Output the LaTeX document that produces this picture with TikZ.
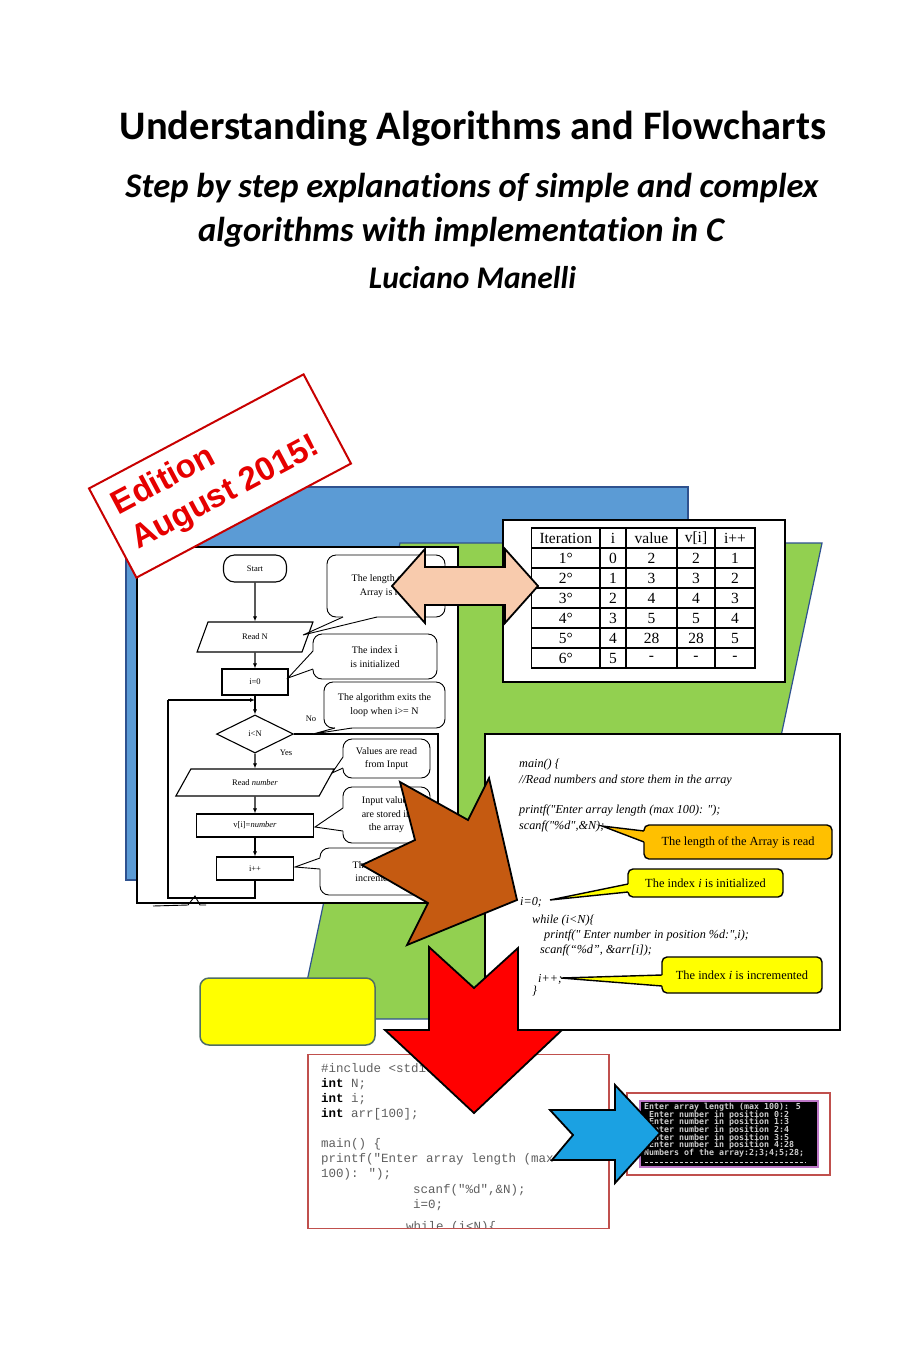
\documentclass[tikz,border=0pt]{standalone}
\usepackage{fontspec}
\setmainfont{Liberation Serif}
\newfontfamily\carl{Carlito}[Ligatures=NoCommon]
\newfontfamily\arl{Liberation Sans}
\newfontfamily\cour{Liberation Mono}
\newfontfamily\dvm{DejaVu Sans Mono}
\newfontfamily\codef{Liberation Serif}
\usetikzlibrary{shapes.geometric,arrows.meta}
\definecolor{bluebg}{RGB}{91,155,213}
\definecolor{blueln}{RGB}{47,82,143}
\definecolor{greenbg}{RGB}{146,208,80}
\definecolor{peach}{RGB}{248,203,173}
\definecolor{brownar}{RGB}{197,90,17}
\definecolor{redar}{RGB}{255,0,0}
\definecolor{bluear}{RGB}{27,161,226}
\definecolor{orangecl}{RGB}{255,192,0}
\definecolor{yellowcl}{RGB}{255,255,0}
\definecolor{darkred}{RGB}{192,80,77}
\definecolor{stampred}{RGB}{200,0,0}
\definecolor{stamptext}{RGB}{230,0,0}
\definecolor{codegray}{RGB}{95,95,95}
\definecolor{termtext}{RGB}{205,205,205}
\definecolor{termframe}{RGB}{190,120,200}
\definecolor{yframe}{RGB}{80,110,100}
% pointer of a speech bubble: [fill]{line width}{base1}{base2}{tip}{base1 inside}{base2 inside}
\newcommand\bubptr[7][white]{%
  \fill[#1] #6 -- #3 -- #5 -- #4 -- #7 -- cycle;
  \draw[line width=#2, line join=miter] #3 -- #5 -- #4;}
\tikzset{
  fcbox/.style={draw, line width=1.1pt, fill=white, inner sep=0pt, font=\fontsize{8.5}{10}\selectfont},
  fcline/.style={line width=1.1pt},
  arr/.style={fcline, -{Latex[length=5pt,width=4pt]}},
  bub/.style={draw, line width=0.9pt, fill=white, rounded corners=9pt, inner sep=0pt, align=center, font=\fontsize{10}{13.5}\selectfont},
  cl/.style={draw, line width=1.4pt, rounded corners=5pt, inner sep=0pt, align=center, font=\fontsize{12.4}{14}\selectfont},
  code/.style={anchor=base west, inner sep=0pt, font=\codef\itshape\fontsize{12.2}{14}\selectfont},
  mono/.style={anchor=base west, inner sep=0pt, text=codegray, font=\cour\fontsize{12.5}{15}\selectfont},
  term/.style={anchor=base west, inner sep=0pt, text=termtext, font=\dvm\bfseries\fontsize{8.3}{8}\selectfont},
  cell/.style={inner sep=0pt, font=\fontsize{15.5}{17}\selectfont},
  lbl/.style={inner sep=0pt, font=\fontsize{8.5}{10}\selectfont},
  bigarrow/.style={draw=black, line width=1.8pt, line join=miter},
  titlef/.style={anchor=base, inner sep=0pt, font=\carl\bfseries\fontsize{40.5}{48}\selectfont},
  subf/.style={anchor=base, inner sep=0pt, font=\carl\bfseries\itshape\fontsize{34.6}{40}\selectfont},
  authf/.style={anchor=base, inner sep=0pt, font=\carl\bfseries\itshape\fontsize{31.5}{38}\selectfont},
  stampf/.style={anchor=base west, inner sep=0pt, text=stamptext, font=\arl\bfseries\fontsize{33}{38}\selectfont},
  plainbox/.style={inner sep=0pt}
}
\begin{document}
\begin{tikzpicture}[x=1pt,y=-1pt]
\useasboundingbox (0,0) rectangle (907,1360);
\fill[white] (0,0) rectangle (907,1360);

% titles
\node[titlef] (title) at (473,139) {Understanding Algorithms and Flowcharts};
\node[subf] (sub1) at (472,197) {Step by step explanations of simple and complex};
\node[subf] (sub2) at (461,241) {algorithms with implementation in C};
\node[authf] (author) at (472.5,288) {Luciano Manelli};

% background shapes
\node[plainbox, draw=blueln, line width=1.2pt, fill=bluebg, minimum width=562, minimum height=393] (bluebox) at (407,683.5) {};
\filldraw[fill=greenbg, draw=blueln, line width=1.2pt] (400,543) -- (822,543) -- (721,1019) -- (299,1019) -- cycle;

% flowchart panel
\node[plainbox, draw, line width=1.5pt, fill=white, minimum width=321, minimum height=356] (fbox) at (297.5,725) {};
\node[fcbox, rounded corners=11pt, minimum width=63, minimum height=27] (start) at (255,568.5) {Start};
\node[fcbox, trapezium, trapezium left angle=63.4, trapezium right angle=116.6, trapezium stretches=true, minimum width=116, minimum height=30] (readn) at (255,637) {Read N};
\node[fcbox, minimum width=66, minimum height=26] (i0) at (255,682) {i=0};
\node[fcbox, diamond, minimum width=77, minimum height=38] (dec) at (255,734) {i<N};
\node[fcbox, trapezium, trapezium left angle=48.4, trapezium right angle=131.6, trapezium stretches=true, minimum width=159, minimum height=27] (readnum) at (255,782.5) {Read \textit{number}};
\node[fcbox, minimum width=117, minimum height=23] (vi) at (255,825.5) {v[i]=\textit{number}};
\node[fcbox, minimum width=77, minimum height=23] (ipp) at (255,868.5) {i++};
\draw[arr] (start) -- (readn);
\draw[arr] (readn) -- (i0);
\draw[arr] (i0) -- (dec);
\draw[arr] (dec) -- (readnum);
\draw[arr] (readnum) -- (vi);
\draw[arr] (vi) -- (ipp);
\coordinate (lb) at (168,898);
\coordinate (lt) at (168,700);
\coordinate (j1) at (255,700);
\draw[fcline] (ipp.south) |- (lb) -- (lt);
\draw[arr] (lt) -- (j1);
\coordinate (nr) at (438,734);
\coordinate (nb) at (438,895);
\draw[fcline] (dec.east) -- (nr) -- (nb);
\node[lbl] (no) at (311,719) {No};
\node[lbl] (yes) at (286,753) {Yes};
\draw[line width=0.9pt] (153,906) -- (188,905) -- (195,896) -- (200,905) -- (206,905);

% flowchart speech bubbles
\node[bub, minimum width=118, minimum height=62] (c1) at (386,586) {The length of the\\Array is read};
\bubptr{0.9pt}{(343,617)}{(377,617)}{(303,635)}{(343,613)}{(377,613)}
\node[bub, minimum width=124, minimum height=45] (c2) at (375,656.5) {The index {\fontsize{12}{13}\selectfont i}\\is initialized};
\bubptr{0.9pt}{(313,651)}{(313,669)}{(288,678)}{(317,651)}{(317,669)}
\node[bub, minimum width=121, minimum height=46] (c3) at (384.5,705) {The algorithm exits the\\loop when i>= N};
\bubptr{0.9pt}{(335,728)}{(352,728)}{(313,734)}{(335,724)}{(352,724)}
\node[bub, minimum width=87, minimum height=39] (c4) at (386.5,758.5) {Values are read\\from Input};
\bubptr{0.9pt}{(343,757)}{(343,768)}{(332,773)}{(347,757)}{(347,768)}
\node[bub, minimum width=87, minimum height=56] (c5) at (386.5,815) {Input values\\are stored in\\the array};
\bubptr{0.9pt}{(343,808)}{(343,831)}{(315,827)}{(347,808)}{(347,831)}
\node[bub, minimum width=120, minimum height=47] (c6) at (380,871.5) {The index i is\\incremented};
\bubptr{0.9pt}{(320,858)}{(320,869)}{(295,867)}{(324,858)}{(324,869)}

% table panel
\node[plainbox, draw, line width=1.8pt, fill=white, minimum width=282, minimum height=162] (tbox) at (644,601) {};
\draw[line width=1.2pt] (531.5,528) rectangle (755,668);
\foreach \yy in {548,568,588,608,628,648} \draw[line width=1.2pt] (531.5,\yy) -- (755,\yy);
\foreach \xx in {600,626,677,715} \draw[line width=1.2pt] (\xx,528) -- (\xx,668);
\foreach \r/\a/\b/\c/\d/\e in {0/Iteration/i/value/{v[i]}/i++, 1/1°/0/2/2/1, 2/2°/1/3/3/2, 3/3°/2/4/4/3, 4/4°/3/5/5/4, 5/5°/4/28/28/5, 6/6°/5/-/-/-}{
  \node[cell] (t\r a) at (565.75,538+20*\r) {\a};
  \node[cell] (t\r b) at (613,538+20*\r) {\b};
  \node[cell] (t\r c) at (651.5,538+20*\r) {\c};
  \node[cell] (t\r d) at (696,538+20*\r) {\d};
  \node[cell] (t\r e) at (735,538+20*\r) {\e};
}

% peach double arrow
\filldraw[fill=peach, bigarrow] (392,586) -- (425,549) -- (425,567) -- (505,567) -- (505,549) -- (538,586) -- (505,623) -- (505,605) -- (425,605) -- (425,623) -- cycle;

% code panel
\node[plainbox, draw, line width=1.5pt, fill=white, minimum width=355, minimum height=296] (cbox) at (662.5,882) {};
\node[code] (k01) at (519,767) {main() \{};
\node[code] (k02) at (519,783) {//Read numbers and store them in the array};
\node[code] (k03) at (519,813) {printf("Enter array length (max 100): ");};
\node[code] (k04) at (519,829) {scanf("\%d",\&N);};
\node[code] (k05) at (520,905) {i=0;};
\node[code] (k06) at (532,923) {while (i<N)\{};
\node[code] (k07) at (544,938) {printf(" Enter number in position \%d:",i);};
\node[code] (k08) at (540,953) {scanf(“\%d”, \&arr[i]);};
\node[code] (k09) at (538,982) {i++;};
\node[code] (k10) at (532,994) {\}};
\node[cl, fill=orangecl, minimum width=188, minimum height=34] (n1) at (738,842) {The length of the Array is read};
\bubptr[orangecl]{1.4pt}{(644,831)}{(644,842)}{(602,826)}{(648,831)}{(648,842)}
\node[cl, fill=yellowcl, minimum width=155, minimum height=28] (n2) at (705.5,883) {The index \textit{i} is initialized};
\bubptr[yellowcl]{1.4pt}{(628,884)}{(628,892)}{(550,900)}{(632,884)}{(632,892)}
\node[cl, fill=yellowcl, minimum width=160, minimum height=36] (n3) at (742,975) {The index \textit{i} is incremented};
\bubptr[yellowcl]{1.4pt}{(662,975)}{(662,986)}{(561,978)}{(666,975)}{(666,986)}

% brown arrow
\filldraw[fill=brownar, bigarrow] (400,782) -- (468,820) -- (489,778) -- (517,900) -- (407,945) -- (428,903) -- (362,865) -- (415,840) -- cycle;

% yellow box
\node[plainbox, draw=yframe, line width=1.5pt, fill=yellowcl, rounded corners=9pt, minimum width=175, minimum height=67] (yrect) at (287.5,1011.5) {};

% bottom code panel
\node[plainbox, draw=darkred, line width=1.5pt, fill=white, minimum width=301, minimum height=174] (bbox) at (458.5,1141.5) {};
\begin{scope}
\clip (309,1056) rectangle (608,1227);
\node[mono] (m01) at (321,1072) {\#include <stdio.h>};
\node[mono] (m02) at (321,1087) {{\bfseries\color{black}int} N;};
\node[mono] (m03) at (321,1102) {{\bfseries\color{black}int} i;};
\node[mono] (m04) at (321,1117) {{\bfseries\color{black}int} arr[100];};
\node[mono] (m05) at (321,1147) {main() \{};
\node[mono] (m06) at (321,1162) {printf("Enter array length (max};
\node[mono] (m07) at (321,1177) {100): ");};
\node[mono] (m08) at (413,1193) {scanf("\%d",\&N);};
\node[mono] (m09) at (413,1208) {i=0;};
\node[mono] (m10) at (406,1230) {while (i<N)\{};
\end{scope}

% red arrow
\filldraw[fill=redar, bigarrow] (429,947) -- (474,988) -- (518,948) -- (518,1030) -- (562,1030) -- (474,1113) -- (385,1030) -- (429,1030) -- cycle;

% terminal
\node[plainbox, draw=darkred, line width=1.5pt, fill=white, minimum width=203, minimum height=82] (term) at (728.5,1134) {};
\node[plainbox, draw=termframe, line width=2.5pt, fill=black, minimum width=178, minimum height=66] (screen) at (729,1134) {};
\node[term] (s1) at (644,1109) {Enter array length (max 100): 5};
\node[term] (s2) at (649,1117) {Enter number in position 0:2};
\node[term] (s3) at (649,1124.7) {Enter number in position 1:3};
\node[term] (s4) at (649,1132.4) {Enter number in position 2:4};
\node[term] (s5) at (649,1140.1) {Enter number in position 3:5};
\node[term] (s6) at (649,1147.8) {Enter number in position 4:28};
\node[term] (s7) at (644,1155.5) {Numbers of the array:2;3;4;5;28;};
\draw[termtext, line width=0.8pt, dash pattern=on 3pt off 2pt] (645,1162) -- (806,1162);

% blue arrow
\filldraw[fill=bluear, bigarrow] (550,1110) -- (615,1110) -- (615,1085) -- (660,1133) -- (615,1183) -- (615,1160) -- (552,1160) -- (573,1135) -- cycle;

% edition stamp
\begin{scope}[shift={(220,476)}, rotate=28, transform shape]
\node[plainbox, draw=stampred, line width=2pt, fill=white, minimum width=243, minimum height=101] (stamp) at (0,0) {};
\node[stampf] (ed1) at (-108,-13) {Edition};
\node[stampf] (ed2) at (-107,27) {August 2015!};
\end{scope}
\end{tikzpicture}
\end{document}
